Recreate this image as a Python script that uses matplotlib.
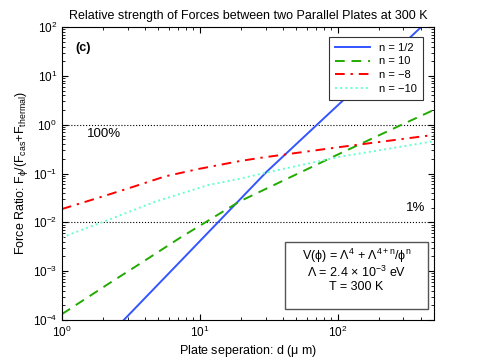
import numpy as np
import matplotlib
matplotlib.use('Agg')
import matplotlib.pyplot as plt
from matplotlib.patches import Rectangle
from matplotlib.ticker import NullFormatter

plt.rcParams['font.family'] = ['Liberation Sans', 'DejaVu Sans']
plt.rcParams['mathtext.fontset'] = 'custom'
plt.rcParams['mathtext.rm'] = 'Liberation Sans'
plt.rcParams['mathtext.it'] = 'Liberation Sans'

# log10(d) and log10(ratio)
blue_logd = [0.449, 0.9, 1.2, 1.483, 1.862, 2.2, 2.606, 2.70]
blue_logy = [-4.0, -2.68, -1.80, -0.97, 0.03, 0.92, 2.0, 2.25]

green_logd = [0.0, 0.348, 0.565, 0.855, 1.29, 1.483, 2.01, 2.45, 2.696]
green_logy = [-3.88, -3.24, -2.85, -2.32, -1.57, -1.31, -0.60, -0.02, 0.30]

red_logd = [0.0, 0.29, 0.519, 0.749, 0.99, 1.28, 1.435, 2.01, 2.696]
red_logy = [-1.727, -1.475, -1.27, -1.058, -0.907, -0.75, -0.68, -0.46, -0.21]

cyan_logd = [0.0, 0.29, 0.676, 1.063, 1.28, 1.483, 2.01, 2.696]
cyan_logy = [-2.307, -2.0, -1.577, -1.235, -1.112, -0.98, -0.66, -0.34]

labels = ['n = 1/2', 'n = 10', 'n = \u22128', 'n = \u221210']

fig = plt.figure(figsize=(4.8, 3.61), dpi=100)
ax = fig.add_axes([0.129, 0.1136, 0.775, 0.8114])

ax.plot(10**np.array(blue_logd), 10**np.array(blue_logy), '-', color='#3355ff', lw=1.4, label=labels[0])
ax.plot(10**np.array(green_logd), 10**np.array(green_logy), '--', color='#22aa00', lw=1.4,
        dashes=(5, 3.5), label=labels[1])
ax.plot(10**np.array(red_logd), 10**np.array(red_logy), '-.', color='#ff0000', lw=1.4,
        dashes=(5, 3, 1.2, 3), label=labels[2])
ax.plot(10**np.array(cyan_logd), 10**np.array(cyan_logy), ':', color='#66ffcc', lw=1.4, label=labels[3])

ax.axhline(1, color='k', ls=':', lw=0.8, zorder=0)
ax.axhline(1e-2, color='k', ls=':', lw=0.8, zorder=0)

ax.set_xscale('log')
ax.set_yscale('log')
ax.set_xlim(1, 500)
ax.set_ylim(1e-4, 1e2)
ax.xaxis.set_minor_formatter(NullFormatter())
ax.yaxis.set_minor_formatter(NullFormatter())

ax.tick_params(which='both', direction='in', top=True, right=True, labelsize=8.5)
ax.tick_params(which='major', length=4)
ax.tick_params(which='minor', length=2)

ax.text(1.52, 10**-0.2, '100%', fontsize=9.5, va='center')
ax.text(316, 10**-1.7, '1%', fontsize=9.5, va='center')
ax.text(1.26, 10**1.58, '(c)', fontsize=9, fontweight='bold', va='center')

# annotation box
ax.add_patch(Rectangle((0.599, 0.0375), 0.385, 0.2285, transform=ax.transAxes,
                       fc='white', ec='#555555', lw=1, zorder=3))
box_lines = ['V($\\phi$) = $\\Lambda^4$ + $\\Lambda^{4+n}$/$\\phi^n$',
             '$\\Lambda$ = 2.4 $\\times$ 10$^{-3}$ eV',
             'T = 300 K']
for yy, s in zip([0.219, 0.163, 0.111], box_lines):
    ax.text(0.792, yy, s, transform=ax.transAxes, ha='center', va='center', fontsize=9, zorder=4)

leg = ax.legend(loc='upper right', fontsize=8, fancybox=False, edgecolor='#333333',
                framealpha=1, handlelength=3.2, borderpad=0.5, labelspacing=0.35,
                bbox_to_anchor=(0.985, 0.985))
leg.get_frame().set_linewidth(0.8)

ax.set_title('Relative strength of Forces between two Parallel Plates at 300 K', fontsize=9, pad=6)
ax.set_xlabel('Plate seperation: d ($\\mu$ m)', fontsize=9, labelpad=2)
ax.set_ylabel('Force Ratio: F$_\\phi$/(F$_{cas}$+F$_{thermal}$)', fontsize=9, labelpad=2)

fig.savefig('out.png', dpi=100)
